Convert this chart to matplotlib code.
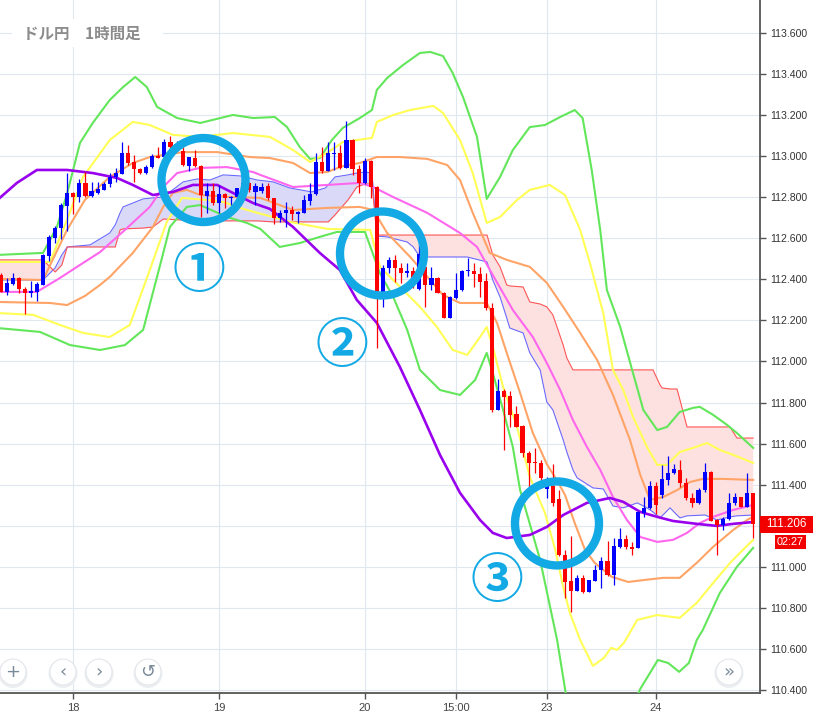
import numpy as np
import matplotlib
matplotlib.use("Agg")
import matplotlib.pyplot as plt
from matplotlib.patches import Ellipse, Rectangle, Circle
from matplotlib.transforms import blended_transform_factory
from matplotlib import font_manager

# ---------------- data ----------------
TITLE = "ドル円\u30001時間足"
TIME_TICK_POS = [12, 36, 60, 75, 90, 108]
TIME_TICK_LABELS = ["18", "19", "20", "15:00", "23", "24"]
PRICE_TICKS = [110.4, 110.6, 110.8, 111.0, 111.2, 111.4, 111.6, 111.8, 112.0,
               112.2, 112.4, 112.6, 112.8, 113.0, 113.2, 113.4, 113.6]
TIMER_TEXT = "02:27"

OPEN = [112.421, 112.339, 112.378, 112.407, 112.353, 112.334, 112.339, 112.373, 112.514, 112.602,
        112.651, 112.758, 112.821, 112.802, 112.870, 112.806, 112.821, 112.836, 112.865, 112.899,
        112.913, 113.016, 112.972, 112.938, 112.918, 112.947, 113.001, 112.996, 113.069, 113.045,
        113.026, 112.952, 112.991, 112.952, 112.806, 112.831, 112.772, 112.816, 112.796, 112.801,
        112.845, 112.870, 112.826, 112.831, 112.855, 112.796, 112.699, 112.724, 112.738, 112.719,
        112.724, 112.782, 112.816, 112.972, 112.928, 113.011, 113.016, 112.943, 113.079, 112.938,
        112.870, 112.977, 112.850, 112.334, 112.456, 112.495, 112.456, 112.431, 112.441, 112.353,
        112.461, 112.373, 112.407, 112.334, 112.212, 112.309, 112.348, 112.441, 112.441, 112.426,
        112.392, 112.261, 111.764, 111.856, 111.832, 111.744, 111.686, 111.554, 111.511, 111.506,
        111.379, 111.394, 111.330, 111.058, 110.931, 110.882, 110.945, 110.877, 110.931, 110.985,
        111.028, 110.960, 111.097, 111.136, 111.097, 111.092, 111.262, 111.287, 111.394, 111.350,
        111.423, 111.457, 111.472, 111.408, 111.335, 111.311, 111.374, 111.462, 111.228, 111.204,
        111.233, 111.311, 111.340, 111.292, 111.360]
HIGH = [112.431, 112.407, 112.431, 112.412, 112.363, 112.392, 112.388, 112.524, 112.616, 112.660,
        112.772, 112.918, 112.826, 112.889, 112.923, 112.875, 112.875, 112.875, 112.918, 112.943,
        113.069, 113.055, 113.006, 112.943, 112.957, 113.011, 113.045, 113.084, 113.099, 113.074,
        113.045, 112.996, 113.030, 112.957, 112.870, 112.870, 112.860, 112.821, 112.806, 112.845,
        112.875, 112.875, 112.870, 112.870, 112.870, 112.796, 112.738, 112.777, 112.758, 112.733,
        112.811, 112.870, 113.016, 113.045, 113.069, 113.069, 113.055, 113.172, 113.084, 112.957,
        112.991, 112.982, 112.855, 112.470, 112.509, 112.519, 112.480, 112.480, 112.461, 112.577,
        112.470, 112.461, 112.412, 112.339, 112.319, 112.431, 112.446, 112.504, 112.480, 112.461,
        112.431, 112.285, 111.915, 111.866, 111.856, 111.783, 111.691, 111.564, 111.579, 111.520,
        111.437, 111.501, 111.374, 111.082, 111.150, 110.960, 110.960, 110.936, 111.009, 111.048,
        111.126, 111.140, 111.189, 111.155, 111.121, 111.272, 111.340, 111.418, 111.413, 111.496,
        111.540, 111.501, 111.520, 111.433, 111.360, 111.384, 111.506, 111.467, 111.233, 111.243,
        111.360, 111.360, 111.340, 111.457, 111.360]
LOW = [112.339, 112.324, 112.373, 112.334, 112.232, 112.314, 112.295, 112.373, 112.490, 112.577,
       112.597, 112.636, 112.719, 112.777, 112.802, 112.802, 112.816, 112.836, 112.850, 112.875,
       112.913, 112.957, 112.875, 112.913, 112.913, 112.943, 112.991, 112.991, 113.040, 113.040,
       112.952, 112.928, 112.947, 112.704, 112.724, 112.762, 112.724, 112.748, 112.762, 112.792,
       112.796, 112.826, 112.762, 112.821, 112.787, 112.670, 112.680, 112.655, 112.689, 112.675,
       112.724, 112.762, 112.811, 112.918, 112.928, 112.933, 112.938, 112.943, 112.909, 112.821,
       112.865, 112.796, 112.066, 112.266, 112.431, 112.388, 112.383, 112.412, 112.358, 112.348,
       112.266, 112.348, 112.334, 112.212, 112.212, 112.304, 112.344, 112.417, 112.363, 112.314,
       112.251, 111.754, 111.764, 111.569, 111.681, 111.681, 111.535, 111.374, 111.457, 111.384,
       111.335, 111.296, 111.053, 110.848, 110.780, 110.882, 110.872, 110.877, 110.931, 110.897,
       110.955, 110.911, 111.092, 111.087, 111.058, 111.092, 111.243, 111.282, 111.257, 111.335,
       111.399, 111.452, 111.389, 111.326, 111.292, 111.306, 111.364, 111.223, 111.058, 111.179,
       111.228, 111.301, 111.292, 111.292, 111.140]
CLOSE = [112.339, 112.383, 112.407, 112.353, 112.334, 112.344, 112.378, 112.519, 112.607, 112.651,
         112.762, 112.821, 112.802, 112.870, 112.806, 112.831, 112.840, 112.865, 112.899, 112.918,
         113.016, 112.967, 112.938, 112.918, 112.947, 113.001, 112.991, 113.069, 113.045, 113.060,
         112.957, 112.996, 112.952, 112.811, 112.831, 112.772, 112.816, 112.796, 112.801, 112.845,
         112.870, 112.836, 112.855, 112.850, 112.796, 112.699, 112.724, 112.738, 112.719, 112.728,
         112.787, 112.816, 112.972, 112.928, 113.016, 113.016, 112.943, 113.079, 112.938, 112.870,
         112.977, 112.850, 112.334, 112.456, 112.495, 112.456, 112.431, 112.441, 112.397, 112.524,
         112.373, 112.407, 112.334, 112.212, 112.314, 112.348, 112.441, 112.446, 112.426, 112.388,
         112.261, 111.764, 111.856, 111.827, 111.740, 111.681, 111.554, 111.506, 111.506, 111.432,
         111.394, 111.311, 111.058, 110.926, 110.882, 110.945, 110.877, 110.936, 110.985, 111.028,
         110.960, 111.101, 111.136, 111.097, 111.087, 111.267, 111.287, 111.394, 111.301, 111.428,
         111.457, 111.476, 111.408, 111.335, 111.311, 111.374, 111.462, 111.223, 111.204, 111.233,
         111.311, 111.340, 111.292, 111.360, 111.206]

# Bollinger bands (candle index, price)
BB_UP3 = [(-0.5, 112.519), (7.0, 112.529), (9.3, 112.656), (11.0, 112.821), (13.1, 113.065),
          (15.2, 113.162), (18.0, 113.274), (20.2, 113.337), (22.2, 113.386), (24.1, 113.337),
          (25.8, 113.240), (29.1, 113.186), (32.9, 113.162), (38.3, 113.201), (41.6, 113.186),
          (45.2, 113.191), (47.2, 113.142), (49.3, 113.045), (51.0, 112.987), (52.6, 112.991),
          (54.6, 113.079), (56.4, 113.138), (59.2, 113.186), (61.2, 113.225), (62.0, 113.323),
          (63.7, 113.381), (66.3, 113.444), (69.1, 113.503), (70.8, 113.508), (72.9, 113.488),
          (74.5, 113.405), (76.2, 113.288), (78.5, 113.094), (80.1, 112.792), (82.3, 112.899),
          (84.4, 113.030), (87.2, 113.142), (89.7, 113.152), (92.2, 113.191), (94.6, 113.225),
          (95.9, 113.186), (97.4, 112.933), (98.8, 112.641), (99.9, 112.348), (102.1, 112.168),
          (104.2, 111.944), (105.9, 111.764), (108.2, 111.666), (109.8, 111.681), (111.9, 111.754),
          (114.1, 111.774), (115.2, 111.779), (117.4, 111.740), (119.7, 111.691), (121.3, 111.652),
          (124.0, 111.579)]
BB_LO3 = [(-0.5, 112.163), (6.5, 112.144), (11.45, 112.080), (16.4, 112.056), (20.5, 112.080),
          (23.5, 112.154), (26.3, 112.470), (27.9, 112.655), (30.7, 112.753), (32.9, 112.762),
          (37.3, 112.704), (40.6, 112.675), (42.8, 112.646), (46.0, 112.558), (49.3, 112.577),
          (52.6, 112.607), (55.4, 112.631), (60.05, 112.631), (62.5, 112.431), (64.7, 112.314),
          (67.0, 112.154), (69.1, 111.959), (72.4, 111.861), (75.7, 111.837), (78.2, 111.910),
          (80.1, 112.042), (81.1, 111.944), (82.8, 111.764), (84.4, 111.584), (85.6, 111.374),
          (88.9, 111.033), (91.7, 110.643), (93.3, 110.351), (95.5, 110.010), (98.8, 109.913),
          (101.2, 110.010), (103.2, 110.254), (105.4, 110.405), (108.3, 110.546), (110.0, 110.531),
          (111.8, 110.488), (113.4, 110.531), (114.7, 110.643), (115.7, 110.692), (118.5, 110.872),
          (121.3, 110.999), (124.0, 111.092)]
BB_UP2 = [(-0.5, 112.485), (8.15, 112.485), (10.96, 112.689), (13.6, 112.899), (18.0, 113.079),
          (21.8, 113.167), (24.6, 113.152), (28.4, 113.104), (32.9, 113.094), (38.3, 113.113),
          (44.4, 113.094), (48.2, 113.030), (51.0, 112.972), (53.8, 113.016), (56.4, 113.069),
          (61.2, 113.089), (62.0, 113.167), (64.7, 113.201), (67.5, 113.225), (71.3, 113.245),
          (72.9, 113.211), (75.7, 113.079), (77.8, 112.918), (80.1, 112.675), (82.3, 112.704),
          (85.1, 112.787), (87.2, 112.836), (90.5, 112.860), (93.0, 112.811), (95.5, 112.641),
          (97.1, 112.480), (99.3, 112.236), (100.9, 111.959), (102.6, 111.861), (104.2, 111.730),
          (106.5, 111.584), (108.2, 111.496), (109.8, 111.496), (111.9, 111.559), (114.1, 111.579),
          (116.4, 111.603), (118.5, 111.569), (120.7, 111.545), (124.0, 111.506)]
BB_LO2 = [(-0.5, 112.236), (5.4, 112.227), (9.8, 112.178), (13.6, 112.139), (18.0, 112.119),
          (21.3, 112.178), (24.6, 112.446), (27.4, 112.680), (29.9, 112.797), (34.0, 112.787),
          (36.7, 112.777), (39.5, 112.748), (42.3, 112.724), (44.9, 112.704), (47.7, 112.680),
          (53.8, 112.646), (60.9, 112.641), (62.5, 112.461), (64.7, 112.397), (69.1, 112.266),
          (71.9, 112.168), (74.5, 112.056), (76.9, 112.032), (79.0, 112.119), (80.1, 112.168),
          (81.1, 112.071), (82.8, 111.876), (85.1, 111.681), (87.2, 111.437), (89.7, 111.262),
          (91.4, 111.082), (92.7, 110.902), (93.8, 110.775), (95.5, 110.643), (97.6, 110.517),
          (99.4, 110.556), (100.6, 110.605), (101.6, 110.595), (102.7, 110.629), (104.9, 110.741),
          (108.2, 110.765), (111.9, 110.751), (114.7, 110.824), (117.4, 110.921), (120.2, 111.019),
          (122.3, 111.082), (124.0, 111.131)]
BB_UP1 = [(-0.5, 112.402), (7.0, 112.397), (10.96, 112.641), (13.9, 112.787), (18.0, 112.899),
          (21.8, 112.967), (24.6, 112.996), (30.1, 113.020), (35.7, 113.020), (41.1, 112.996),
          (44.4, 112.991), (48.2, 112.967), (51.0, 112.918), (53.8, 112.923), (56.4, 112.952),
          (59.2, 112.967), (62.0, 112.996), (65.8, 112.996), (70.3, 112.987), (73.6, 112.957),
          (75.7, 112.884), (77.8, 112.724), (80.6, 112.529), (83.4, 112.495), (87.2, 112.461),
          (90.0, 112.383), (92.7, 112.266), (95.5, 112.139), (98.3, 112.007), (100.9, 111.837),
          (103.7, 111.618), (105.4, 111.447), (107.0, 111.326), (109.2, 111.340), (111.5, 111.374),
          (113.6, 111.413), (115.7, 111.428), (119.0, 111.428), (124.0, 111.423)]
BB_LO1 = [(-0.5, 112.290), (8.15, 112.285), (10.96, 112.275), (13.9, 112.319), (16.4, 112.373),
          (18.0, 112.412), (21.8, 112.529), (25.1, 112.655), (26.8, 112.753), (28.4, 112.821),
          (30.7, 112.836), (32.9, 112.811), (38.3, 112.801), (42.8, 112.797), (48.2, 112.738),
          (53.8, 112.748), (59.2, 112.753), (61.4, 112.738), (63.7, 112.626), (67.5, 112.509),
          (72.9, 112.324), (75.7, 112.285), (80.1, 112.285), (81.8, 112.188), (83.4, 112.042),
          (85.6, 111.847), (87.7, 111.652), (90.0, 111.500), (91.7, 111.420), (93.0, 111.350),
          (94.6, 111.213), (96.3, 111.082), (97.9, 111.019), (100.7, 110.951), (103.4, 110.926),
          (106.2, 110.936), (109.2, 110.946), (111.9, 110.946), (114.7, 111.019), (117.4, 111.097),
          (120.7, 111.179), (123.0, 111.228), (124.0, 111.243)]
BB_MID = [(-0.5, 112.339), (6.0, 112.339), (9.8, 112.407), (13.6, 112.480), (16.4, 112.533),
          (20.5, 112.641), (24.6, 112.753), (26.8, 112.850), (29.1, 112.918), (32.9, 112.943),
          (37.3, 112.947), (41.6, 112.923), (42.8, 112.909), (48.2, 112.850), (53.8, 112.860),
          (59.2, 112.870), (61.4, 112.850), (64.7, 112.801), (70.3, 112.724), (75.7, 112.626),
          (78.5, 112.558), (81.1, 112.421), (84.4, 112.251), (87.7, 112.119), (90.0, 111.993),
          (92.2, 111.861), (94.3, 111.715), (96.6, 111.584), (98.8, 111.472), (100.9, 111.340),
          (103.2, 111.228), (105.4, 111.145), (108.2, 111.121), (110.8, 111.131), (113.1, 111.165),
          (115.2, 111.213), (117.4, 111.243), (120.7, 111.277), (124.0, 111.301)]
LONG_MA = [(-0.5, 112.787), (2.7, 112.870), (6.0, 112.933), (10.96, 112.933), (15.2, 112.918),
           (19.2, 112.894), (21.8, 112.860), (25.1, 112.811), (28.4, 112.826), (31.7, 112.860),
           (35.7, 112.860), (38.3, 112.821), (41.6, 112.772), (44.4, 112.743), (48.2, 112.655),
           (52.6, 112.529), (55.9, 112.446), (58.7, 112.300), (62.0, 112.188), (65.8, 111.973),
           (69.1, 111.764), (72.4, 111.545), (75.7, 111.360), (79.0, 111.228), (81.1, 111.165),
           (83.4, 111.140), (87.2, 111.155), (90.0, 111.194), (92.7, 111.252), (96.6, 111.311),
           (100.4, 111.335), (102.6, 111.316), (105.4, 111.267), (108.2, 111.243), (110.8, 111.223),
           (114.7, 111.209), (118.0, 111.199), (120.7, 111.209), (124.0, 111.218)]
# Ichimoku cloud: (candle index, span A, span B)
CLOUD = [(-0.5, 112.397, 112.495), (7.0, 112.397, 112.495), (9.0, 112.456, 112.436),
         (10.1, 112.519, 112.470), (11.0, 112.558, 112.558), (14.75, 112.568, 112.558),
         (18.0, 112.626, 112.558), (18.9, 112.665, 112.558), (19.7, 112.724, 112.641),
         (20.2, 112.753, 112.646), (23.5, 112.792, 112.650), (25.1, 112.797, 112.655),
         (26.8, 112.801, 112.694), (30.1, 112.875, 112.689), (32.4, 112.889, 112.689),
         (34.5, 112.884, 112.685), (36.7, 112.909, 112.685), (39.5, 112.904, 112.685),
         (42.3, 112.884, 112.685), (44.9, 112.875, 112.680), (47.7, 112.845, 112.680),
         (51.3, 112.826, 112.680), (53.5, 112.845, 112.680), (54.0, 112.860, 112.680),
         (55.1, 112.899, 112.714), (57.25, 112.909, 112.787), (58.7, 112.918, 112.850),
         (60.05, 112.923, 112.865), (61.2, 112.918, 112.865), (62.0, 112.611, 112.616),
         (63.7, 112.607, 112.616), (67.0, 112.582, 112.616), (68.0, 112.558, 112.616),
         (69.1, 112.509, 112.616), (76.9, 112.509, 112.616), (80.15, 112.485, 112.616),
         (81.1, 112.397, 112.519), (82.3, 112.314, 112.461), (83.4, 112.212, 112.373),
         (83.9, 112.163, 112.368), (86.1, 112.139, 112.363), (87.2, 112.042, 112.290),
         (88.9, 111.959, 112.280), (90.0, 111.803, 112.266), (91.0, 111.764, 112.227),
         (92.7, 111.618, 112.080), (93.3, 111.559, 112.017), (94.3, 111.472, 111.959),
         (95.0, 111.433, 111.959), (97.6, 111.384, 111.959), (99.3, 111.379, 111.959),
         (100.9, 111.296, 111.959), (102.6, 111.287, 111.959), (104.9, 111.311, 111.959),
         (106.5, 111.287, 111.959), (107.5, 111.267, 111.959), (108.65, 111.238, 111.886),
         (109.0, 111.248, 111.871), (110.3, 111.287, 111.866), (111.45, 111.252, 111.866),
         (111.94, 111.238, 111.813), (113.1, 111.248, 111.681), (116.06, 111.252, 111.681),
         (118.04, 111.228, 111.681), (120.18, 111.243, 111.681), (121.33, 111.248, 111.627),
         (124.0, 111.252, 111.627)]

# annotations: label, circle centre (index, price), label position (index, price)
MARKS = [("①", (33.44, 112.884), (32.6, 112.438)),
         ("②", (62.85, 112.526), (56.3, 112.074)),
         ("③", (91.68, 111.211), (81.8, 110.926))]

# ---------------- style ----------------
names = {f.name for f in font_manager.fontManager.ttflist}
base_font = "Liberation Sans" if "Liberation Sans" in names else "DejaVu Sans"
plt.rcParams["font.family"] = [base_font, "DejaVu Sans"]
CJK = ["Noto Sans CJK JP", "DejaVu Sans"]

W, H = 813, 719
PX_PER_BAR = 6.07
fig = plt.figure(figsize=(W / 100, H / 100), dpi=100)
fig.patch.set_facecolor("white")
ax = fig.add_axes([0, 26 / H, 760 / W, 693 / H])
ax.set_xlim(-0.5 / PX_PER_BAR, 759.5 / PX_PER_BAR)
ax.set_ylim(110.385, 113.761)

last = CLOSE[-1]

# grid / axes (the tick label hidden behind the last-price tag is left blank)
ax.set_yticks(PRICE_TICKS)
ax.set_yticklabels(["" if abs(v - last) < 0.03 else f"{v:.3f}" for v in PRICE_TICKS])
ax.yaxis.tick_right()
ax.set_xticks(TIME_TICK_POS)
ax.set_xticklabels(TIME_TICK_LABELS)
ax.grid(True, color="#dfe8f0", lw=0.8)
ax.set_axisbelow(True)
for s in ("top", "left"):
    ax.spines[s].set_visible(False)
for s in ("right", "bottom"):
    ax.spines[s].set_color("#555555")
    ax.spines[s].set_linewidth(1.3)
ax.tick_params(axis="y", direction="out", length=4, width=1, color="#555555",
               labelsize=7.6, labelcolor="#333333", pad=3)
ax.tick_params(axis="x", direction="out", length=4, width=1, color="#555555",
               labelsize=8, labelcolor="#444444", pad=3)

# cloud
cl = np.array(CLOUD)
cx, ca, cb = cl[:, 0], cl[:, 1], cl[:, 2]
ax.fill_between(cx, ca, cb, where=ca >= cb, interpolate=True, color="#dadaf8", lw=0, zorder=1)
ax.fill_between(cx, ca, cb, where=ca < cb, interpolate=True, color="#fde0e0", lw=0, zorder=1)
ax.plot(cx, ca, color="#6a6aff", lw=0.8, zorder=2)
ax.plot(cx, cb, color="#ff5555", lw=0.8, zorder=2)

def draw(series, color, lw, z=3):
    a = np.array(series)
    ax.plot(a[:, 0], a[:, 1], color=color, lw=lw, zorder=z, solid_joinstyle="round")

draw(BB_UP3, "#62e65a", 1.5)
draw(BB_LO3, "#62e65a", 1.5)
draw(BB_UP2, "#ffff55", 1.5)
draw(BB_LO2, "#ffff55", 1.5)
draw(BB_UP1, "#ffa466", 1.5)
draw(BB_LO1, "#ffa466", 1.5)
draw(BB_MID, "#ff66ee", 1.5)
draw(LONG_MA, "#9900ee", 1.9, z=3.5)

# candles
o, h, l, c = map(np.array, (OPEN, HIGH, LOW, CLOSE))
idx = np.arange(len(o))
cols = np.where(c >= o, "#0000ff", "#ff0000")
ax.vlines(idx, l, h, colors=cols, lw=0.9, zorder=5)
ax.bar(idx, np.maximum(np.abs(c - o), 0.006), bottom=np.minimum(o, c), width=0.68,
       color=cols, lw=0, zorder=6)

# annotation circles
RX = 2 * 42 / PX_PER_BAR
RY = 2 * 42 / 205.3
for lab, (ccx, ccy), (lx, ly) in MARKS:
    ax.add_patch(Ellipse((ccx, ccy), RX, RY, fill=False, ec="#12a9e4", lw=6.0, zorder=8))
    ax.text(lx, ly, lab, fontsize=38, fontweight="bold", color="#12a9e4", ha="center",
            va="center", family=CJK, zorder=8)

# last price labels
tr = blended_transform_factory(ax.transAxes, ax.transData)
ax.add_patch(Rectangle((1.0, last - 0.041), 53 / 760, 0.082, transform=tr, fc="#f20000",
                       ec="none", clip_on=False, zorder=20))
ax.text(1.0 + 26.5 / 760, last, f"{last:.3f}", transform=tr, color="white", fontsize=8.4,
        ha="center", va="center", clip_on=False, zorder=21)
ax.add_patch(Rectangle((775 / 760, last - 0.119), 31 / 760, 0.068, transform=tr, fc="#f20000",
                       ec="none", clip_on=False, zorder=20))
ax.text(790.5 / 760, last - 0.085, TIMER_TEXT, transform=tr, color="white", fontsize=7.8,
        ha="center", va="center", clip_on=False, zorder=21)

# overlay (title + navigation buttons)
ov = fig.add_axes([0, 0, 1, 1], zorder=10)
ov.set_xlim(0, W)
ov.set_ylim(H, 0)
ov.axis("off")
ov.patch.set_alpha(0)
ov.add_patch(Rectangle((12, 19), 151, 28, fc="white", ec="none"))
ov.text(23, 34, TITLE, fontsize=11.2, fontweight="bold", color="#8c8c8c",
        ha="left", va="center", family=CJK)
for bx, sym in [(13, "+"), (63, "\u2039"), (99, "\u203a"), (148, "\u21ba"), (729, "\u00bb")]:
    ov.add_patch(Circle((bx, 673.5), 14.5, fc="#eceef1", ec="none"))
    ov.add_patch(Circle((bx, 672), 13, fc="white", ec="#e4e7eb", lw=0.8))
    ov.text(bx, 672, sym, fontsize=13, color="#7b8a99", ha="center", va="center",
            family=["DejaVu Sans"])

fig.savefig("out.png", dpi=100, facecolor="white")
